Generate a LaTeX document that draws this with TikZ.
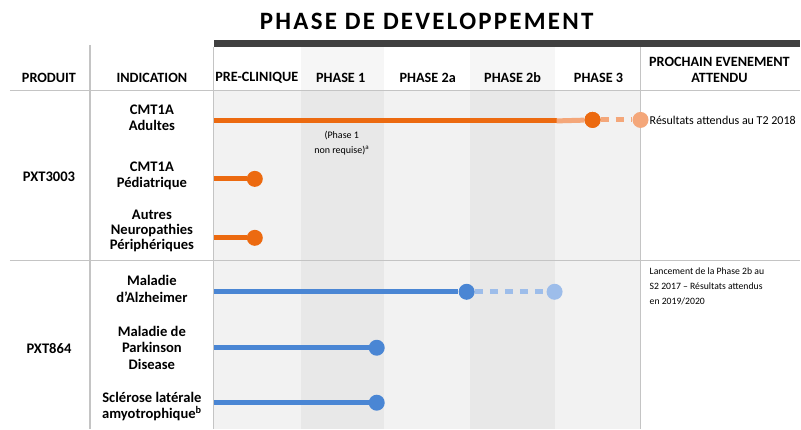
\documentclass[tikz,border=0pt]{standalone}
\usepackage{fontspec}
\setmainfont{Carlito}
\usetikzlibrary{positioning, calc}
\definecolor{pxorange}{HTML}{EC6A10}
\definecolor{pxorangelt}{HTML}{F4A77A}
\definecolor{pxblue}{HTML}{4A86D4}
\definecolor{pxbluelt}{HTML}{9DBDEA}
\definecolor{bardark}{HTML}{404040}
\definecolor{gridgray}{HTML}{C4C4C4}
\definecolor{colhead}{HTML}{F6F6F6}
\definecolor{collight}{HTML}{F2F2F2}
\definecolor{coldark}{HTML}{E8E8E8}

\begin{document}
\begin{tikzpicture}[x=1pt, y=-1pt,
  hdr/.style={font=\bfseries\fontsize{14.2}{16.5}\selectfont, align=center, inner sep=0pt},
  lbl/.style={font=\bfseries\fontsize{14.6}{16.5}\selectfont, align=center, inner sep=0pt},
  note/.style={font=\fontsize{9.7}{15}\selectfont, align=left, anchor=west, inner sep=0pt},
  grid/.style={draw=gridgray, line width=1.2pt},
  track/.style={line width=5pt},
  later/.style={line width=5pt, dash pattern=on 8pt off 7pt},
  dot/.style={circle, inner sep=0pt, minimum size=16pt}]

  \fill[white] (0,0) rectangle (801,429);

  % column shading
  \foreach \xa/\xb/\body in {214/301/collight, 301/384/coldark, 384/470/collight, 470/555/coldark, 555/641/collight}{
    \fill[\body] (\xa,90) rectangle (\xb,429);
  }
  \fill[colhead] (301,47) rectangle (384,90);
  \fill[colhead] (470,47) rectangle (555,90);

  % title and bar
  \node[font=\bfseries\fontsize{25}{30}\selectfont\addfontfeature{LetterSpace=9}] (title) at (427,21) {PHASE DE DEVELOPPEMENT};
  \fill[bardark] (214,40) rectangle (801,47);

  % grid lines
  \draw[grid] (10,90.5) -- (801,90.5);
  \draw[grid] (10,261) -- (801,261);
  \draw[grid] (90,45) -- (90,429);
  \draw[grid] (214,47) -- (214,429);
  \draw[grid] (641,47) -- (641,429);

  % header
  \node[hdr] (hprod) at (49,78) {PRODUIT};
  \node[hdr] (hind) at (152,78) {INDICATION};
  \foreach \x/\name [count=\i] in {257/PRE-CLINIQUE, 341/PHASE 1, 428/PHASE 2a, 513/PHASE 2b, 599/PHASE 3}{
    \node[hdr] (hph\i) at (\x,78) {\name};
  }
  \node[hdr] (hnext) at (720,70) {PROCHAIN EVENEMENT\\ATTENDU};

  % products
  \node[lbl] (pxt3003) at (49,177) {PXT3003};
  \node[lbl] (pxt864) at (49,349) {PXT864};

  % indications
  \node[lbl] (adult) at (152,118) {CMT1A\\Adultes};
  \node[lbl] (pedia) at (152,176) {CMT1A\\Pédiatrique};
  \node[lbl, font=\bfseries\fontsize{14.6}{15}\selectfont] (neuro) at (152,231) {Autres\\Neuropathies\\Périphériques};
  \node[lbl] (alz) at (152,289) {Maladie\\d’Alzheimer};
  \node[lbl] (park) at (152,348) {Maladie de\\Parkinson\\Disease};
  \node[lbl] (als) at (152,407) {Sclérose latérale\\amyotrophique\textsuperscript{b}};

  % PXT3003 tracks
  \coordinate (adult0) at (214,121);
  \coordinate (adultlt) at (557,121);
  \node[dot, fill=pxorange] (adultend) at (593,120) {};
  \node[dot, fill=pxorangelt] (adultnext) at (641,120) {};
  \draw[track, pxorange] (adult0) -- (adultlt);
  \draw[track, pxorangelt] (adultlt) -- (adultend);
  \draw[later, pxorangelt] (adultend.east) -- (adultnext.west);
  \node[dot, fill=pxorange] at (adultend) {};
  \node[font=\fontsize{10}{15}\selectfont, align=center, inner sep=0pt] (nophase1) at (342,143) {(Phase 1\\non requise)\textsuperscript{a}};

  \coordinate (pedia0) at (214,179);
  \node[dot, fill=pxorange] (pediaend) at (255,179) {};
  \draw[track, pxorange] (pedia0) -- (pediaend);

  \coordinate (neuro0) at (214,238);
  \node[dot, fill=pxorange] (neuroend) at (255,238) {};
  \draw[track, pxorange] (neuro0) -- (neuroend);

  % PXT864 tracks
  \coordinate (alz0) at (214,292);
  \node[dot, fill=pxblue] (alzend) at (467,292) {};
  \node[dot, fill=pxbluelt] (alznext) at (555,292) {};
  \draw[track, pxblue] (alz0) -- (alzend);
  \draw[later, pxbluelt] (alzend.east) -- (alznext.west);

  \coordinate (park0) at (214,348);
  \node[dot, fill=pxblue] (parkend) at (377,348) {};
  \draw[track, pxblue] (park0) -- (parkend);

  \coordinate (als0) at (214,403);
  \node[dot, fill=pxblue] (alsend) at (377,403) {};
  \draw[track, pxblue] (als0) -- (alsend);

  % next events
  \node[note, font=\fontsize{12}{15}\selectfont] (ev3003) at (650,120) {Résultats attendus au T2 2018};
  \node[note, anchor=north west] (ev864) at (650,268) {Lancement de la Phase 2b au\\S2 2017 – Résultats attendus\\en 2019/2020};
\end{tikzpicture}
\end{document}
